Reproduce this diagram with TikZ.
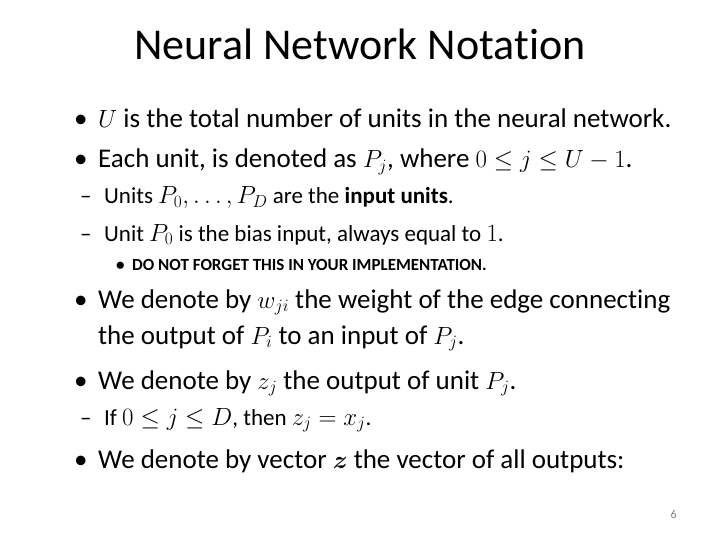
\documentclass[tikz,border=0pt]{standalone}
\usepackage{amsmath}
\usepackage{fontspec}
\setmainfont[Ligatures=CommonOff]{Carlito}
\begin{document}
\begin{tikzpicture}[x=1pt,y=-1pt,
  t1/.style={anchor=base west,inner sep=0pt,font=\fontsize{27}{30}\selectfont},
  t2/.style={anchor=base west,inner sep=0pt,font=\fontsize{23}{26}\selectfont},
  t3/.style={anchor=base west,inner sep=0pt,font=\fontsize{17}{20}\selectfont\bfseries}]
\useasboundingbox[fill=white] (0,0) rectangle (720,540);
\node[anchor=base,inner sep=0pt,font=\fontsize{44}{48}\selectfont] (title) at (360,60) {Neural Network Notation};
\node[t1] (b0) at (74,128) {•};
\node[t1] (l1) at (98,128) {$U$ is the total number of units in the neural network.};
\node[t1] (b1) at (74,168) {•};
\node[t1] (l2) at (98,168) {Each unit, is denoted as $P_j$, where $0 \le j \le U-1$.};
\node[t2] (d1) at (80,204) {–};
\node[t2] (l3) at (104,204) {Units $P_0,\dots,P_D$ are the \textbf{input units}.};
\node[t2] (d2) at (80,241) {–};
\node[t2] (l4) at (104,241) {Unit $P_0$ is the bias input, always equal to $1$.};
\node[t3] (b2) at (116,270) {•};
\node[t3] (l5) at (132,270) {DO NOT FORGET THIS IN YOUR IMPLEMENTATION.};
\node[t1] (b3) at (74,308) {•};
\node[t1] (l6) at (98,308) {We denote by $w_{ji}$ the weight of the edge connecting};
\node[t1] (l7) at (98,344) {the output of $P_i$ to an input of $P_j$.};
\node[t1] (b4) at (74,389) {•};
\node[t1] (l8) at (98,389) {We denote by $z_j$ the output of unit $P_j$.};
\node[t2] (d3) at (80,425) {–};
\node[t2] (l9) at (104,425) {If $0\le j\le D$, then $z_j=x_j$.};
\node[t1] (b5) at (74,468) {•};
\node[t1] (l10) at (98,468) {We denote by vector $\boldsymbol{z}$ the vector of all outputs:};
\node[anchor=base east,inner sep=0pt,text=gray,font=\fontsize{12}{14}\selectfont] (pg) at (677,518) {6};
\end{tikzpicture}
\end{document}
